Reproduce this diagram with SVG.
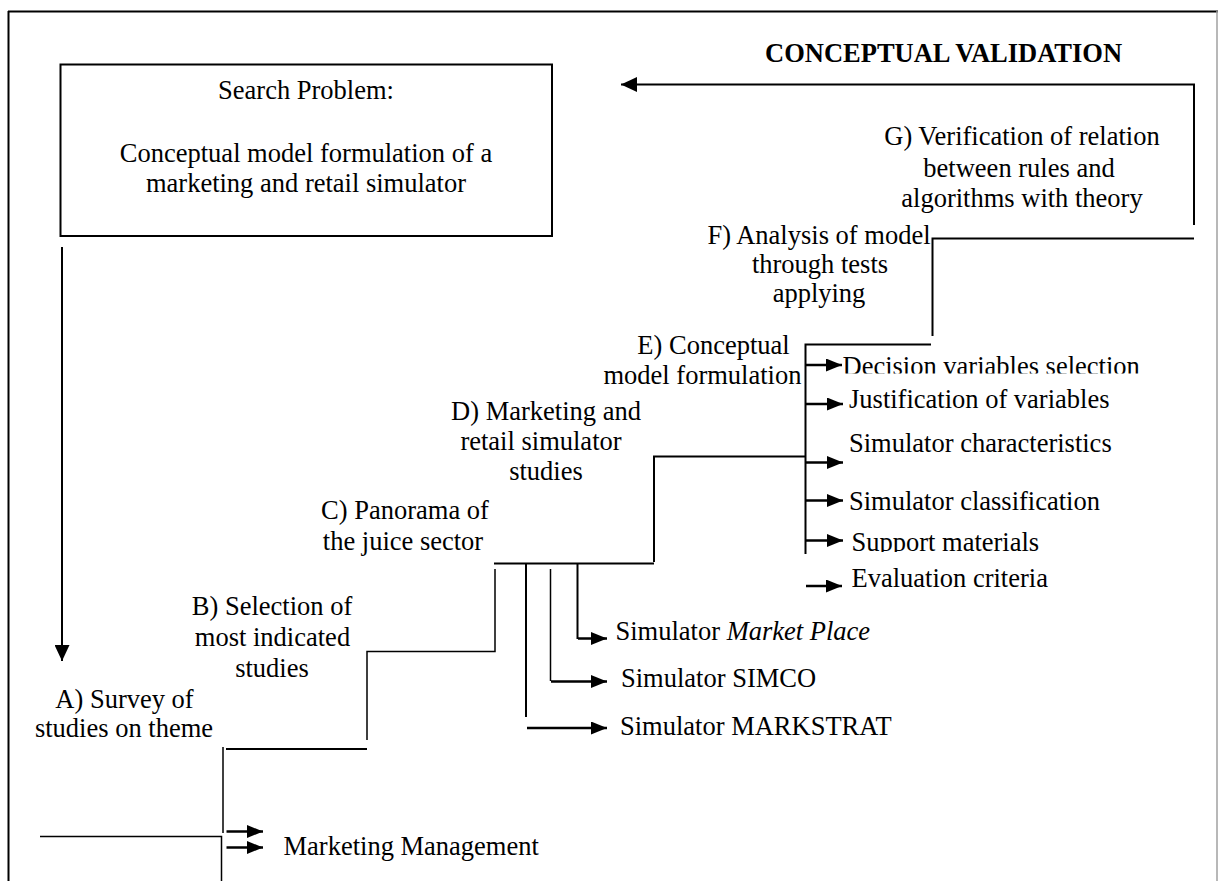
<svg xmlns="http://www.w3.org/2000/svg" width="1219" height="881" viewBox="0 0 1219 881" font-family="'Liberation Serif', 'DejaVu Serif', serif">
<style>
  text { font-family: "Liberation Serif", "DejaVu Serif", serif; font-size: 26.5px; fill: #000; }
  .c { text-anchor: middle; }
  .b { font-weight: bold; }
  .i { font-style: italic; }
  .ln { fill: none; stroke: #000; stroke-width: 2; }
  .thin { fill: none; stroke: #000; stroke-width: 1.5; }
  .ar { fill: none; stroke: #000; stroke-width: 2.5; marker-end: url(#ah); }
</style>
<defs>
  <marker id="ah" markerUnits="userSpaceOnUse" markerWidth="16" markerHeight="13" refX="16" refY="6.5" orient="auto">
    <path d="M0,0 L16,6.5 L0,13 z" fill="#000"/>
  </marker>
  <marker id="ahb" markerUnits="userSpaceOnUse" markerWidth="16" markerHeight="15" refX="16" refY="7.5" orient="auto">
    <path d="M0,0 L16,7.5 L0,15 z" fill="#000"/>
  </marker>
  <clipPath id="clipDec"><rect x="830" y="340" width="360" height="33.5"/></clipPath>
  <clipPath id="clipSup"><rect x="840" y="520" width="300" height="32"/></clipPath>
  <clipPath id="clipG"><rect x="860" y="180" width="330" height="33"/></clipPath>
</defs>
<rect x="0" y="0" width="1219" height="881" fill="#fff"/>
<g id="frame">
  <line x1="8.5" y1="11" x2="8.5" y2="881" stroke="#000" stroke-width="2"/>
  <line x1="8" y1="11.5" x2="1218" y2="11.5" stroke="#000" stroke-width="2"/>
  <line x1="1217" y1="11" x2="1217" y2="881" stroke="#a0a0a0" stroke-width="1.5"/>
</g>
<g id="connectors">
  <path d="M62,247 V661" class="ln" marker-end="url(#ahb)"/>
  <path d="M1194,225 V84.5 H621" class="ln" marker-end="url(#ahb)"/>
  <path d="M1194,238.5 H932.5 V336" class="ln"/>
  <path d="M931,344.5 H805.5 V554" class="ln"/>
  <path d="M805,456.5 H654 V562" class="ln"/>
  <path d="M654,563.5 H494" class="ln"/>
  <path d="M495,569 V651.5 H367 V740" class="thin"/>
  <path d="M367,749 H226" class="ln"/>
  <path d="M223,747 V833" class="thin"/>
  <path d="M40,836.5 H221.5 V881" class="thin"/>
  <path d="M526,563 V717" class="ln"/>
  <path d="M550.5,569 V681" class="thin"/>
  <path d="M577.5,564 V639" class="ln"/>
  <path d="M527,728 H607" class="ar"/>
  <path d="M551,681.5 H607" class="ar"/>
  <path d="M578,638.5 H607" class="ar"/>
  <path d="M806,365 H842" class="ar"/>
  <path d="M806,404 H843" class="ar"/>
  <path d="M806,462.5 H843" class="ar"/>
  <path d="M806,500.5 H843" class="ar"/>
  <path d="M806,540.5 H843" class="ar"/>
  <path d="M806,586 H842" class="ar"/>
  <path d="M226.5,831.5 H263" class="ar"/>
  <path d="M226.5,847.5 H263" class="ar"/>
</g>
<g id="search-problem">
  <rect x="60.5" y="64.5" width="491.5" height="171.5" fill="none" stroke="#000" stroke-width="2"/>
  <text x="306" y="99" class="c">Search Problem:</text>
  <text x="306" y="162" class="c">Conceptual model formulation of a</text>
  <text x="306" y="192" class="c">marketing and retail simulator</text>
</g>
<g id="conceptual-validation">
  <text x="765" y="62" class="b">CONCEPTUAL VALIDATION</text>
</g>
<g id="step-g">
  <text x="1022" y="145" class="c">G) Verification of relation</text>
  <text x="1019" y="177" class="c">between rules and</text>
  <text x="1022" y="207" class="c" clip-path="url(#clipG)">algorithms with theory</text>
</g>
<g id="step-f">
  <text x="819" y="243.5" class="c">F) Analysis of model</text>
  <text x="820" y="273" class="c">through tests</text>
  <text x="819" y="302" class="c">applying</text>
</g>
<g id="step-e">
  <text x="713.5" y="354" class="c">E) Conceptual</text>
  <text x="702.5" y="384" class="c">model formulation</text>
</g>
<g id="e-items">
  <text x="842.5" y="375" clip-path="url(#clipDec)">Decision variables selection</text>
  <text x="849" y="408">Justification of variables</text>
  <text x="849" y="452">Simulator characteristics</text>
  <text x="849" y="510">Simulator classification</text>
  <text x="851.5" y="551" clip-path="url(#clipSup)">Support materials</text>
  <text x="851.5" y="587">Evaluation criteria</text>
</g>
<g id="step-d">
  <text x="546" y="420" class="c">D) Marketing and</text>
  <text x="541" y="450" class="c">retail simulator</text>
  <text x="546" y="480" class="c">studies</text>
</g>
<g id="step-c">
  <text x="405" y="519" class="c">C) Panorama of</text>
  <text x="403" y="550" class="c">the juice sector</text>
</g>
<g id="c-items">
  <text x="615.5" y="640">Simulator <tspan class="i">Market Place</tspan></text>
  <text x="621" y="687">Simulator SIMCO</text>
  <text x="620" y="735">Simulator MARKSTRAT</text>
</g>
<g id="step-b">
  <text x="272" y="615" class="c">B) Selection of</text>
  <text x="272.5" y="646" class="c">most indicated</text>
  <text x="272" y="677" class="c">studies</text>
</g>
<g id="step-a">
  <text x="124.5" y="707.5" class="c">A) Survey of</text>
  <text x="124" y="737" class="c">studies on theme</text>
</g>
<g id="a-items">
  <text x="283.5" y="855">Marketing Management</text>
</g>
</svg>
